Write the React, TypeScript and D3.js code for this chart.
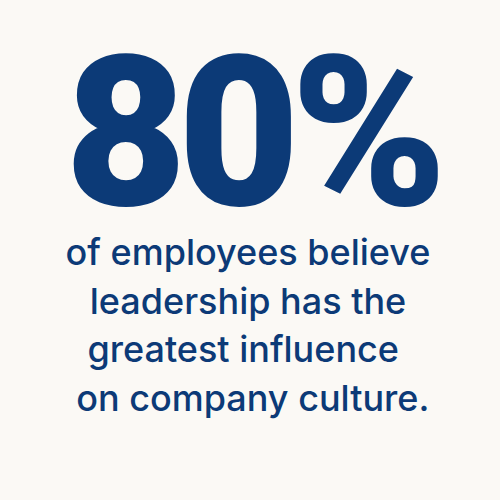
import React, { useEffect, useRef } from "react";
import * as d3 from "d3";

// headline figure and the statement under it
const headline = "80%";
const bodyLines = [
  "of employees believe",
  "leadership has the",
  "greatest influence ",
  " on company culture.",
];

const W = 500;
const H = 500;
const navy = "#0c3a77";
const paper = "#fbf9f5";

export default function App() {
  const ref = useRef<SVGSVGElement>(null);

  useEffect(() => {
    document.body.style.margin = "0";
    const svg = d3.select(ref.current);
    svg.selectAll("*").remove();

    svg.append("rect").attr("width", W).attr("height", H).attr("fill", paper);

    // big number
    svg
      .append("text")
      .text(headline)
      .attr("x", 256)
      .attr("y", 205)
      .attr("text-anchor", "middle")
      .attr("font-family", "Roboto, 'DejaVu Sans', sans-serif")
      .attr("font-weight", 900)
      .attr("font-size", 210)
      .attr("textLength", 382)
      .attr("lengthAdjust", "spacing")
      .attr("fill", navy);

    // line index -> baseline
    const y = d3.scaleLinear().domain([0, bodyLines.length - 1]).range([265, 411]);

    svg
      .selectAll("text.line")
      .data(bodyLines)
      .enter()
      .append("text")
      .attr("class", "line")
      .attr("x", 248)
      .attr("y", (_d, i) => y(i))
      .attr("text-anchor", "middle")
      .attr("font-family", "Inter, 'Liberation Sans', sans-serif")
      .attr("font-weight", 500)
      .attr("font-size", 36)
      .style("white-space", "pre")
      .attr("fill", navy)
      .text((d) => d);
  }, []);

  return <svg ref={ref} width={W} height={H} style={{ display: "block" }} />;
}
